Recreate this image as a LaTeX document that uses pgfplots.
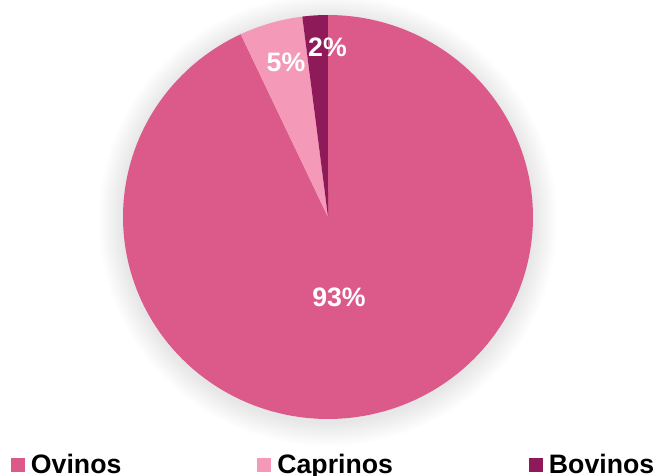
\documentclass[border=0pt]{standalone}
\usepackage{pgfplots}
\pgfplotsset{compat=1.18}
\usepackage{pgfplotstable}
\usepackage{fontspec}
\setmainfont{Liberation Sans}
\definecolor{ovinos}{HTML}{DC5A8A}
\definecolor{caprinos}{HTML}{F49AB8}
\definecolor{bovinos}{HTML}{8E1A5A}
\pgfplotstableread{
name value
Ovinos 93
Caprinos 5
Bovinos 2
}\piedata
\pgfplotstableread{
x y label
339 -297 93\%
286 -62 5\%
327.5 -47.5 2\%
}\labeldata
\begin{document}
\begin{tikzpicture}
\pgfplotstablegetelem{0}{value}\of\piedata \let\vA\pgfplotsretval
\pgfplotstablegetelem{1}{value}\of\piedata \let\vB\pgfplotsretval
\pgfplotstablegetelem{2}{value}\of\piedata \let\vC\pgfplotsretval
\pgfmathsetmacro{\tot}{\vA+\vB+\vC}
\pgfmathsetmacro{\aZ}{90}
\pgfmathsetmacro{\aA}{90-(\vA/\tot)*360}
\pgfmathsetmacro{\aB}{\aA-(\vB/\tot)*360}
\pgfmathsetmacro{\aC}{\aB-(\vC/\tot)*360}
\path[use as bounding box] (0,0) rectangle (495pt,356.25pt);
\begin{axis}[
  scale only axis, width=495pt, height=356.25pt,
  xmin=0, xmax=660, ymin=-475, ymax=0,
  hide axis, clip=false,
  legend columns=3,
  legend style={draw=none, fill=none, inner sep=0pt, outer sep=0pt,
    at={(axis cs:11,-454)}, anchor=north west,
    font=\fontsize{20}{24}\selectfont\bfseries,
    nodes={inner sep=0pt},
    /tikz/every odd column/.append style={column sep=4.5pt},
    /tikz/every even column/.append style={column sep=102pt}},
  legend image code/.code={\fill[#1, draw=none] (0pt,-5.25pt) rectangle (10.5pt,5.25pt);},
]
% soft shadow
\pgfplotsinvokeforeach{1,...,12}{
  \addplot[draw=none, fill=black, fill opacity=0.009, domain=0:360, samples=120, forget plot]
    ({328+(205+2*#1)*cos(x)}, {-220+(202+2*#1)*sin(x)}) -- cycle;
}
% slices
\addplot[draw=none, fill=ovinos, domain=\aA:\aZ, samples=200, forget plot]
  ({328+205*cos(x)}, {-217+202*sin(x)}) -- (axis cs:328,-217) -- cycle;
\addplot[draw=none, fill=caprinos, domain=\aB:\aA, samples=30, forget plot]
  ({328+205*cos(x)}, {-217+202*sin(x)}) -- (axis cs:328,-217) -- cycle;
\addplot[draw=none, fill=bovinos, domain=\aC:\aB, samples=20, forget plot]
  ({328+205*cos(x)}, {-217+202*sin(x)}) -- (axis cs:328,-217) -- cycle;
% labels
\addplot[only marks, mark=none, forget plot,
  point meta=explicit symbolic,
  nodes near coords,
  every node near coord/.style={anchor=center, text=white,
    font=\fontsize{20}{24}\selectfont\bfseries}]
  table[x=x, y=y, meta=label] {\labeldata};
\addlegendimage{fill=ovinos, draw=none}
\addlegendentry{Ovinos}
\addlegendimage{fill=caprinos, draw=none}
\addlegendentry{Caprinos}
\addlegendimage{fill=bovinos, draw=none}
\addlegendentry{Bovinos}
\end{axis}
\end{tikzpicture}
\end{document}
